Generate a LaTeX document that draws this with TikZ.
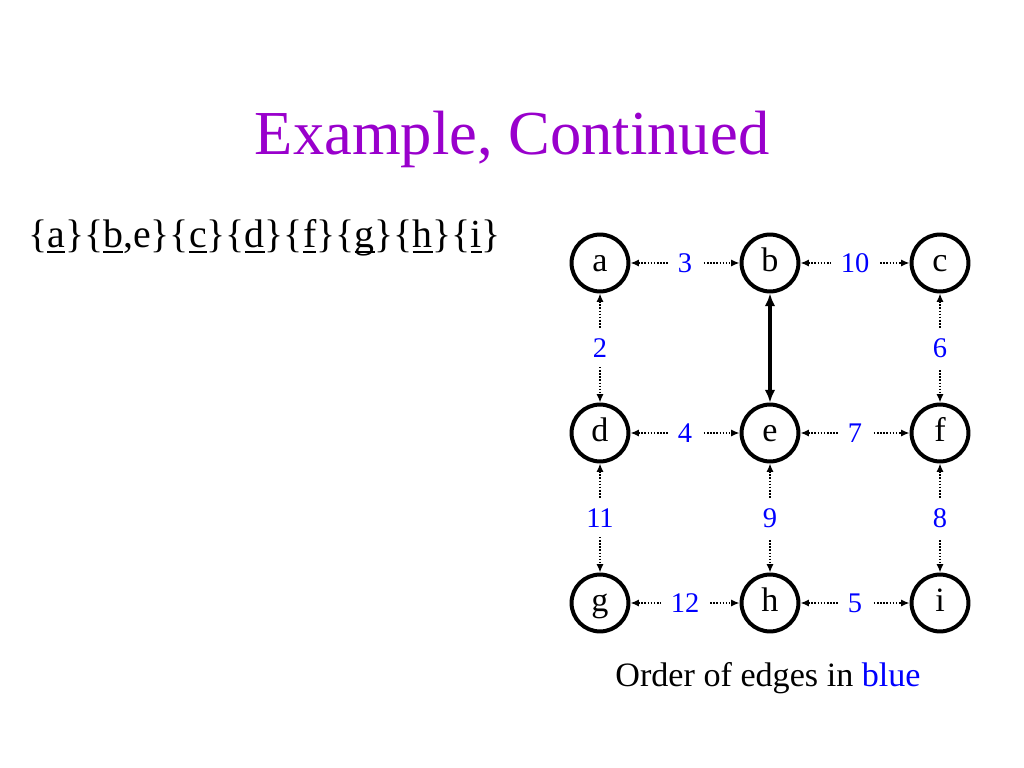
\documentclass[tikz,border=0pt]{standalone}
\usepackage{fontspec}
\setmainfont{Liberation Serif}
\usetikzlibrary{arrows.meta}
\definecolor{titlepurple}{RGB}{153,0,204}
\definecolor{numblue}{RGB}{0,0,255}
\newcommand\myul[1]{\setbox0\hbox{#1}\rlap{\rule[-3.6pt]{\wd0}{1.3pt}}\box0}
\begin{document}
\begin{tikzpicture}[x=0.703125pt,y=-0.703125pt,
  vtx/.style={circle,draw,line width=2.8pt,minimum size=40pt,inner sep=0pt,
    font=\fontsize{24}{28}\selectfont,text height=12.6pt,text depth=0pt},
  lbl/.style={fill=white,inner sep=7pt,text=numblue,font=\fontsize{20}{24}\selectfont},
  dotedge/.style={line width=1.1pt,dash pattern=on 1.1pt off 1.1pt,
    {Latex[length=6pt,width=5pt]}-{Latex[length=6pt,width=5pt]}},
  boldedge/.style={line width=2.2pt,
    {Latex[length=9pt,width=7.5pt]}-{Latex[length=9pt,width=7.5pt]}}]
\useasboundingbox (0,0) rectangle (1024,768);
\node[anchor=base,text=titlepurple,font=\fontsize{44}{50}\selectfont,inner sep=0pt] (title) at (512,155) {Example, Continued};
\node[anchor=base west,inner sep=0pt,font=\fontsize{28}{32}\selectfont] (sets) at (28,248)
  {\{\myul{a}\}\{\myul{b},e\}\{\myul{c}\}\{\myul{d}\}\{\myul{f}\}\{\myul{g}\}\{\myul{h}\}\{\myul{i}\}};
\node[vtx] (a) at (600,263) {a};
\node[vtx] (b) at (770,263) {b};
\node[vtx] (c) at (940,263) {c};
\node[vtx] (d) at (600,433) {d};
\node[vtx] (e) at (770,433) {e};
\node[vtx] (f) at (940,433) {f};
\node[vtx] (g) at (600,603) {g};
\node[vtx] (h) at (770,603) {h};
\node[vtx] (i) at (940,603) {i};
\draw[dotedge] (a) -- node[lbl] {3} (b);
\draw[dotedge] (b) -- node[lbl] {10} (c);
\draw[dotedge] (d) -- node[lbl] {4} (e);
\draw[dotedge] (e) -- node[lbl] {7} (f);
\draw[dotedge] (g) -- node[lbl] {12} (h);
\draw[dotedge] (h) -- node[lbl] {5} (i);
\draw[dotedge] (a) -- node[lbl] {2} (d);
\draw[dotedge] (c) -- node[lbl] {6} (f);
\draw[dotedge] (d) -- node[lbl] {11} (g);
\draw[dotedge] (e) -- node[lbl] {9} (h);
\draw[dotedge] (f) -- node[lbl] {8} (i);
\draw[boldedge] (b) -- (e);
\node[anchor=base,inner sep=0pt,font=\fontsize{24}{28}\selectfont] (caption) at (768,686) {Order of edges in \textcolor{numblue}{blue}};
\end{tikzpicture}
\end{document}
